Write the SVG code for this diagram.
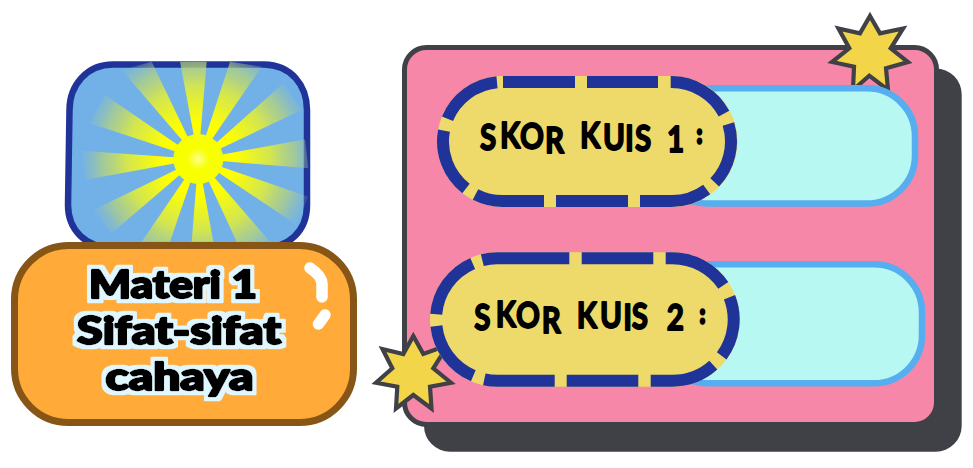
<svg xmlns="http://www.w3.org/2000/svg" width="973" height="468" viewBox="0 0 973 468">
<style>
.star{fill:#f3d54a;stroke:#3f4147;stroke-width:4.200;stroke-linejoin:miter}
.box{fill:#b8f8f2;stroke:#56adf0;stroke-width:6.5}
.pill{fill:#eeda6b}
.dash{fill:none;stroke:#1f3399;stroke-width:12}
.skor{font-family:"Lato","Liberation Sans",sans-serif;font-weight:700;font-size:37px;fill:#000;stroke:#000;stroke-width:1.8;stroke-linejoin:round}
.titik{font-size:24px;stroke-width:3.4px}
.judul{font-family:"Lato","Liberation Sans",sans-serif;font-weight:900;font-size:38px;fill:#000;stroke:#000;stroke-width:2.4;stroke-linejoin:round;text-anchor:middle;filter:url(#halo)}
.ray{fill:url(#rayGrad)}
</style>
<defs>
<radialGradient id="rayGrad" gradientUnits="userSpaceOnUse" cx="198.3" cy="159" r="121">
<stop offset="0" stop-color="#ffff00"/>
<stop offset="0.3" stop-color="#ffff00"/>
<stop offset="0.6" stop-color="#d2e552"/>
<stop offset="0.8" stop-color="#b4d27e" stop-opacity="0.7"/>
<stop offset="1" stop-color="#8cc0c0" stop-opacity="0"/>
</radialGradient>
<radialGradient id="sunGrad">
<stop offset="0" stop-color="#fbff8a"/>
<stop offset="0.45" stop-color="#f8ff00"/>
<stop offset="1" stop-color="#f8ff00"/>
</radialGradient>
<filter id="halo" x="-10%" y="-30%" width="120%" height="160%">
<feMorphology in="SourceAlpha" operator="dilate" radius="3.600" result="d"/>
<feGaussianBlur in="d" stdDeviation="0.5" result="b"/>
<feFlood flood-color="#e0f7ff"/>
<feComposite in2="b" operator="in" result="o"/>
<feMerge><feMergeNode in="o"/><feMergeNode in="SourceGraphic"/></feMerge>
</filter>
</defs>

<g id="panel">
<rect x="424" y="68.500" width="537.700" height="383.200" rx="26" fill="#3f4147"/>
<rect x="404.500" y="47.500" width="532" height="377" rx="22" fill="#f687a8" stroke="#3f4147" stroke-width="5"/>
</g>

<g id="star-atas">
<polygon class="star" points="870,16 880,33.3 903,28.5 890.7,48.3 908,62 886,68.3 888,90 869.3,75.7 853,90 854,66.7 832,62 849.3,48.3 838.5,28.5 860,33.3"/>
</g>
<g id="star-bawah">
<polygon class="star" points="413.3,336 423.3,354 448,345 433.3,368.3 451,382.7 430,386.7 431.5,408.5 413.3,395 396,408.5 397.3,386.7 376,382.7 392.3,368.3 382.5,349 403.3,354"/>
</g>

<g id="kotak-1">
<rect class="box" x="660" y="88.300" width="255" height="115.200" rx="48"/>
</g>
<g id="kotak-2">
<rect class="box" x="660" y="264.300" width="262" height="119" rx="48"/>
</g>

<g id="skor-1">
<rect class="pill" x="437" y="76" width="300.500" height="131" rx="65.500"/>
<path class="dash" d="M503 82H575M587 82H658M670.7 82H671.5A59.5 59.5 0 0 1 724 113.6M728.4 124.1A59.5 59.5 0 0 1 714.7 182.4M706.7 189.5A59.5 59.5 0 0 1 671.5 201H640M628 201H556M544 201H502.5A59.5 59.5 0 0 1 475.5 194.5M466 188.5A59.5 59.5 0 0 1 444 130.6M447.5 118.8A59.5 59.5 0 0 1 497 82.3"/>
<text class="skor" transform="scale(.8 1)" x="600 625 650 681.300 706.300 725 753.800 781.300 793.800 818.800 833.800 860 871.300" y="150 148 149 153 150 148 150 151 151 150 152 150 143">SKOR KUIS 1 <tspan class="titik">:</tspan></text>
</g>

<g id="skor-2">
<rect class="pill" x="430" y="252.300" width="309.700" height="134.400" rx="67.200"/>
<path class="dash" d="M482.3 260.1A61.2 61.2 0 0 1 497.2 258.3H569.3M581.7 258.3H653.3M665.7 258.3H672.5A61.2 61.2 0 0 1 723.3 285.4M729.5 297.2A61.2 61.2 0 0 1 721.7 355.9M713.3 365.1A61.2 61.2 0 0 1 672.5 380.7H650.7M638.3 380.7H566.7M554.7 380.7H497.2A61.2 61.2 0 0 1 484.3 379.3M473.3 375.8A61.2 61.2 0 0 1 436.4 326M436.2 314.3A61.2 61.2 0 0 1 472.7 263.4"/>
<text class="skor" transform="scale(.8 1)" x="592.900 619.600 645 677.100 700 720.900 750 779.100 789.600 812.500 833.400 862.500 875" y="330 327 328 333 330 328 328 330 329 330 330 330 323">SKOR KUIS 2 <tspan class="titik">:</tspan></text>
</g>

<g id="matahari">
<path d="M113 64.500H264C291 65 307 85 307 110V205C307 232 288 248 262 248H113C86 248 68 230 68 205L69.500 110C69.500 85 87 64.500 113 64.500Z" fill="#72b1e8" stroke="#1f3399" stroke-width="6.500"/>
<g>
<polygon class="ray" points="198.3,159 180,61.7 206.7,61.7"/>
<polygon class="ray" points="198.3,159 230,61.7 261.7,66.7"/>
<polygon class="ray" points="198.3,159 283.3,83.3 301.7,110"/>
<polygon class="ray" points="198.3,159 305,139.3 308.3,168.3"/>
<polygon class="ray" points="198.3,159 308.3,196.7 296.7,225"/>
<polygon class="ray" points="198.3,159 270,241.7 236.7,241.7"/>
<polygon class="ray" points="198.3,159 213.3,241.7 191.7,241.7"/>
<polygon class="ray" points="198.3,159 170,241.7 141.7,241.7"/>
<polygon class="ray" points="198.3,159 111.7,233.3 93.3,210"/>
<polygon class="ray" points="198.3,159 85,180 81.7,150.7"/>
<polygon class="ray" points="198.3,159 90,123.3 105,95"/>
<polygon class="ray" points="198.3,159 121.7,70 151.7,61.7"/>
</g>
<circle cx="198.300" cy="159" r="25" fill="url(#sunGrad)"/>
</g>

<g id="materi">
<rect x="14.500" y="245.500" width="339" height="177" rx="54" fill="#ffaa39" stroke="#875616" stroke-width="7"/>
<path d="M310 268Q322 276 322 284V297M325 315L318.500 324" fill="none" stroke="#fff" stroke-width="11.500" stroke-linecap="round" stroke-linejoin="round"/>
<text class="judul" x="173" y="298" textLength="168" lengthAdjust="spacingAndGlyphs">Materi 1</text>
<text class="judul" x="179" y="344" textLength="204" lengthAdjust="spacingAndGlyphs">Sifat-sifat</text>
<text class="judul" x="179.500" y="390" textLength="148" lengthAdjust="spacingAndGlyphs">cahaya</text>
</g>
</svg>
